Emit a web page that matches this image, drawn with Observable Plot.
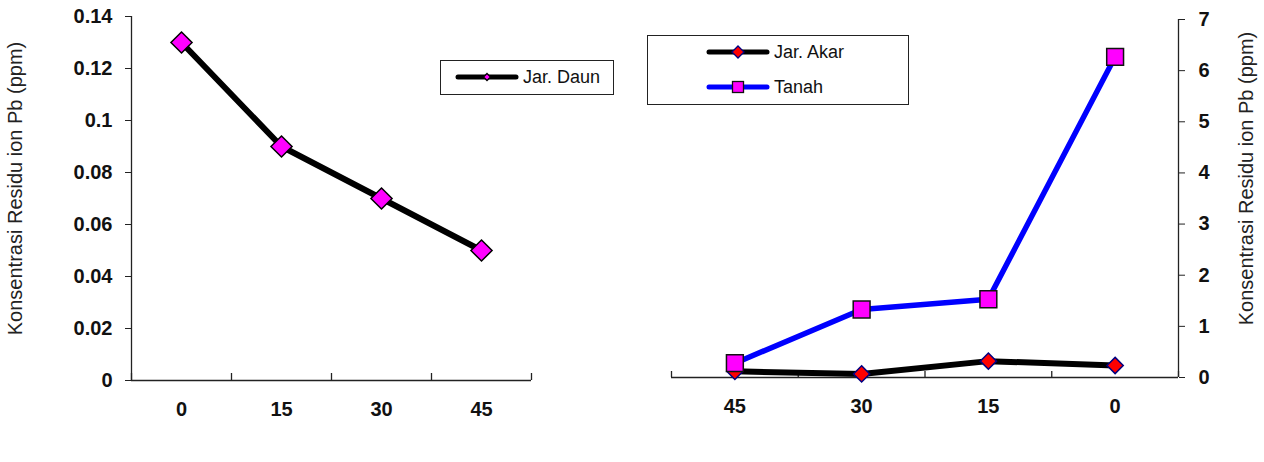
<!DOCTYPE html>
<html>
<head>
<meta charset="utf-8">
<script src="https://cdn.jsdelivr.net/npm/d3@7"></script>
<script src="https://cdn.jsdelivr.net/npm/@observablehq/plot@0.6"></script>
<style>
html, body { margin: 0; padding: 0; background: #fff; }
#wrap { position: relative; width: 1264px; height: 462px; overflow: hidden; font-family: "Liberation Sans", Arial, sans-serif; }
#left { position: absolute; left: 0; top: 0; }
#right { position: absolute; left: 600px; top: 0; }
.legend { position: absolute; border: 1.5px solid #222; background: #fff; box-sizing: border-box; color: #111; font-size: 18px; }
.row { position: absolute; display: flex; align-items: center; height: 24px; }
.row svg { display: block; }
.row span { margin-left: 4px; line-height: 24px; }
</style>
</head>
<body>
<div id="wrap">
  <div id="left"></div>
  <div id="right"></div>
  <div class="legend" id="legL" style="left:440px;top:60px;width:174px;height:35px;"></div>
  <div class="legend" id="legR" style="left:647px;top:35px;width:262px;height:70px;"></div>
</div>
<script>
// ---- data ----
const days = ["0", "15", "30", "45"];           // sampling day
const jarDaun = [0.13, 0.09, 0.07, 0.05];       // left chart, ppm
const jarAkar = [0.235, 0.32, 0.07, 0.12];      // right chart, ppm (days 0,15,30,45)
const tanah = [6.27, 1.53, 1.33, 0.28];         // right chart, ppm (days 0,15,30,45)
const yTicksLeft = [0, 0.02, 0.04, 0.06, 0.08, 0.1, 0.12, 0.14];
const yTicksRight = [0, 1, 2, 3, 4, 5, 6, 7];
const yLabel = "Konsentrasi Residu ion Pb (ppm)";
const seriesLeft = ["Jar. Daun"];
const seriesRight = ["Jar. Akar", "Tanah"];

const font = "Liberation Sans, Arial, sans-serif";
const idx = d3.range(days.length);
const bounds = d3.range(days.length + 1).map(i => i - 0.5);

// ---- left chart ----
const leftData = idx.map(i => ({i, v: jarDaun[i]}));
const left = Plot.plot({
  width: 600, height: 462,
  marginLeft: 131, marginRight: 69, marginTop: 16, marginBottom: 82,
  style: {fontFamily: font, background: "transparent", overflow: "visible", color: "#111"},
  x: {type: "linear", domain: [-0.5, days.length - 0.5]},
  y: {domain: [0, 0.14]},
  marks: [
    Plot.axisY({ticks: yTicksLeft, tickSize: 6, tickPadding: 13, tickFormat: d => String(d),
      fontSize: 20, fontWeight: "bold", label: null, stroke: "#222"}),
    Plot.axisX({ticks: idx, tickSize: 0, tickPadding: 21, tickFormat: i => days[i],
      fontSize: 20, fontWeight: "bold", label: null}),
    Plot.ruleX(bounds, {x: d => d, insetTop: 357, stroke: "#222", strokeWidth: 1.3}),
    Plot.ruleX([-0.5], {stroke: "#222", strokeWidth: 1.3}),
    Plot.ruleY([0], {stroke: "#222", strokeWidth: 1.3}),
    Plot.line(leftData, {x: "i", y: "v", stroke: "#000", strokeWidth: 6, strokeLinejoin: "round"}),
    Plot.dot(leftData, {x: "i", y: "v", symbol: "diamond2", r: 9.5, fill: "#ff00ff", stroke: "#000", strokeWidth: 1.5}),
    Plot.text([yLabel], {frameAnchor: "left", textAnchor: "middle", rotate: -90, dx: -116, dy: -10, fontSize: 20, fill: "#222"})
  ]
});
document.getElementById("left").appendChild(left);

// ---- right chart ----
const akarData = idx.map(i => ({i, v: jarAkar[i]}));
const tanahData = idx.map(i => ({i, v: tanah[i]}));
const right = Plot.plot({
  width: 664, height: 462,
  marginLeft: 71, marginRight: 86, marginTop: 19, marginBottom: 85,
  style: {fontFamily: font, background: "transparent", overflow: "visible", color: "#111"},
  x: {type: "linear", domain: [days.length - 0.5, -0.5]},
  y: {domain: [0, 7]},
  marks: [
    Plot.axisY({anchor: "right", ticks: yTicksRight, tickSize: 6, tickPadding: 14, tickFormat: d => String(d),
      fontSize: 20, fontWeight: "bold", label: null, stroke: "#222"}),
    Plot.axisX({ticks: idx, tickSize: 0, tickPadding: 21, tickFormat: i => days[i],
      fontSize: 20, fontWeight: "bold", label: null}),
    Plot.ruleX(bounds, {x: d => d, insetTop: 352, stroke: "#222", strokeWidth: 1.3}),
    Plot.ruleX([-0.5], {stroke: "#222", strokeWidth: 1.3}),
    Plot.ruleY([0], {stroke: "#222", strokeWidth: 1.3}),
    Plot.line(akarData, {x: "i", y: "v", stroke: "#000", strokeWidth: 6, strokeLinejoin: "round"}),
    Plot.dot(akarData, {x: "i", y: "v", symbol: "diamond2", r: 7.3, fill: "#ff0000", stroke: "#000080", strokeWidth: 1.5}),
    Plot.line(tanahData, {x: "i", y: "v", stroke: "#0000ff", strokeWidth: 5.5, strokeLinejoin: "round"}),
    Plot.dot(tanahData, {x: "i", y: "v", symbol: "square", r: 9.5, fill: "#ff00ff", stroke: "#111", strokeWidth: 1.5}),
    Plot.text([yLabel], {frameAnchor: "right", textAnchor: "middle", rotate: -90, dx: 68, dy: -20, fontSize: 20, fill: "#222"})
  ]
});
document.getElementById("right").appendChild(right);

// ---- legends ----
function swatch(lineColor, lineW, shape, fill, stroke, size) {
  const w = 64, h = 20, c = w / 2, m = h / 2;
  let sym;
  if (shape === "diamond") {
    sym = `<path d="M${c},${m - size}L${c + size},${m}L${c},${m + size}L${c - size},${m}Z" fill="${fill}" stroke="${stroke}" stroke-width="1.3"/>`;
  } else {
    sym = `<rect x="${c - size}" y="${m - size}" width="${2 * size}" height="${2 * size}" fill="${fill}" stroke="${stroke}" stroke-width="1.3"/>`;
  }
  return `<svg width="${w}" height="${h}"><line x1="3" y1="${m}" x2="${w - 3}" y2="${m}" stroke="${lineColor}" stroke-width="${lineW}" stroke-linecap="round"/>${sym}</svg>`;
}
const legL = document.getElementById("legL");
legL.innerHTML = `<div class="row" style="left:14px;top:4px;">${swatch("#000", 5, "diamond", "#ff00ff", "#000", 3.5)}<span>${seriesLeft[0]}</span></div>`;
const legR = document.getElementById("legR");
legR.innerHTML =
  `<div class="row" style="left:58px;top:4px;">${swatch("#000", 5, "diamond", "#ff0000", "#000080", 6)}<span>${seriesRight[0]}</span></div>` +
  `<div class="row" style="left:58px;top:39px;">${swatch("#0000ff", 5, "square", "#ff00ff", "#111", 5.5)}<span>${seriesRight[1]}</span></div>`;
</script>
</body>
</html>
